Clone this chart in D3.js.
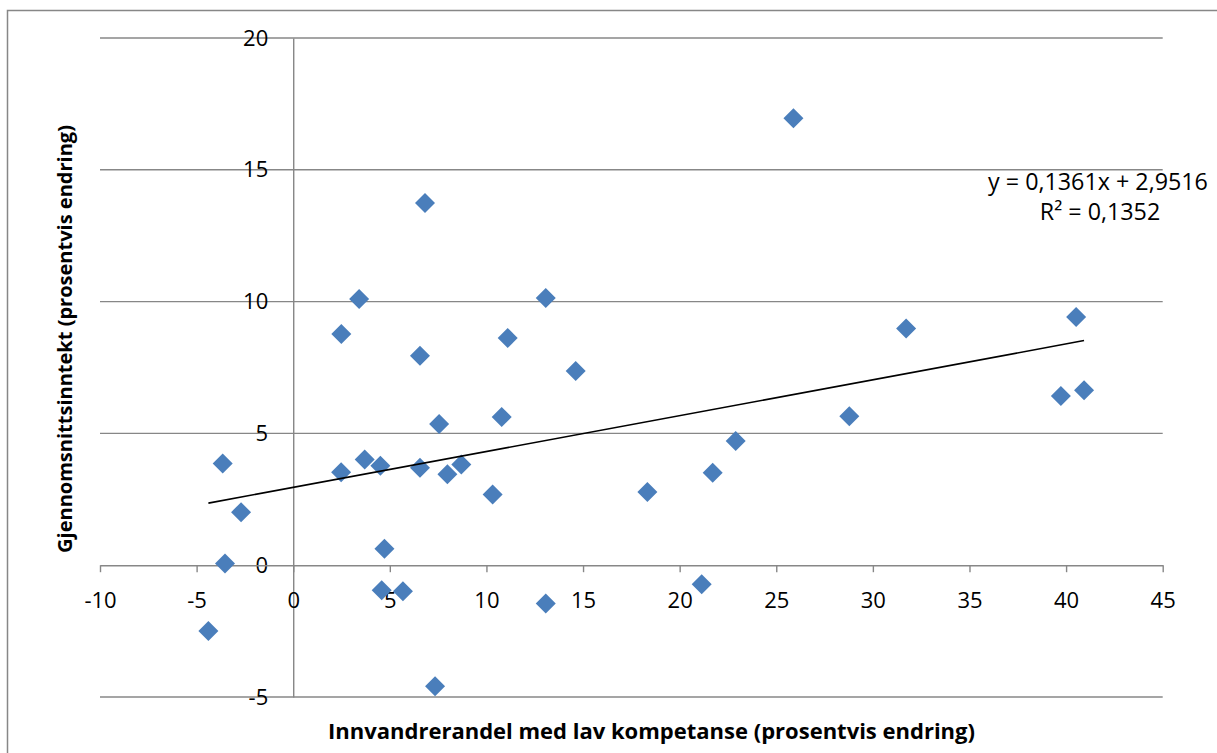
<!DOCTYPE html>
<html>
<head>
<meta charset="utf-8">
<script src="https://cdn.jsdelivr.net/npm/d3@7"></script>
<style>
  html, body { margin: 0; padding: 0; background: #ffffff; }
  svg { display: block; }
</style>
</head>
<body>
<svg id="chart" width="1217" height="753"></svg>
<script>
// ---- data ----
const xValues = [-4.39, -3.65, -3.53, -2.70, 2.48, 2.49, 3.41, 3.70, 4.51, 4.58, 4.72, 5.68,
                 6.56, 6.56, 6.82, 7.34, 7.55, 7.98, 8.70, 10.32, 10.79, 11.10, 13.07, 13.07,
                 14.62, 18.33, 21.14, 21.71, 22.90, 25.89, 28.78, 31.72, 39.73, 40.52, 40.93];
const yValues = [-2.50, 3.86, 0.06, 2.01, 3.53, 8.77, 10.10, 4.01, 3.77, -0.95, 0.62, -0.99,
                 7.95, 3.70, 13.74, -4.59, 5.36, 3.45, 3.82, 2.68, 5.62, 8.62, 10.14, -1.45,
                 7.37, 2.78, -0.72, 3.51, 4.71, 16.96, 5.65, 8.98, 6.42, 9.42, 6.64];
const trendSlope = 0.1361;
const trendIntercept = 2.9516;
const xTicks = [-10, -5, 0, 5, 10, 15, 20, 25, 30, 35, 40, 45];
const yTicks = [-5, 0, 5, 10, 15, 20];
const xDomain = [-10, 45];
const yDomain = [-5, 20];
const xTitle = "Innvandrerandel med lav kompetanse (prosentvis endring)";
const yTitle = "Gjennomsnittsinntekt (prosentvis endring)";
const equationLabel = "y = 0,1361x + 2,9516";
const r2Label = "R² = 0,1352";

// ---- drawing ----
const svg = d3.select("#chart");
const FONT = "'Open Sans', 'Noto Sans', sans-serif";
const GREY = "#878787";

const x = d3.scaleLinear().domain(xDomain).range([100, 1162.7]);
const y = d3.scaleLinear().domain(yDomain).range([697, 38]);

// outer chart border
svg.append("rect")
  .attr("x", 7.5).attr("y", 10.5)
  .attr("width", 1260).attr("height", 800)
  .attr("fill", "none").attr("stroke", GREY).attr("stroke-width", 1.5);

// horizontal gridlines
svg.append("g").selectAll("line")
  .data(yTicks.filter(d => d !== 0))
  .join("line")
  .attr("x1", x(xDomain[0])).attr("x2", x(xDomain[1]))
  .attr("y1", d => y(d)).attr("y2", d => y(d))
  .attr("stroke", GREY).attr("stroke-width", 1.4);

// y axis (at x = 0)
const yAxis = svg.append("g")
  .attr("transform", `translate(${x(0)},0)`)
  .call(d3.axisLeft(y).tickValues(yTicks).tickSize(0).tickSizeOuter(0).tickPadding(25)
        .tickFormat(d => String(d)));
yAxis.select(".domain").attr("stroke", GREY).attr("stroke-width", 1.4);
yAxis.selectAll("text").attr("font-family", FONT).attr("font-size", 22).attr("fill", "#000");

// x axis (at y = 0)
const xAxis = svg.append("g")
  .attr("transform", `translate(0,${y(0)})`)
  .call(d3.axisBottom(x).tickValues(xTicks).tickSize(7).tickSizeOuter(0)
        .tickFormat(d => String(d)));
xAxis.select(".domain").attr("stroke", GREY).attr("stroke-width", 1.4);
xAxis.selectAll(".tick line").attr("stroke", GREY).attr("stroke-width", 1.4);
xAxis.selectAll("text")
  .attr("font-family", FONT).attr("font-size", 22).attr("fill", "#000")
  .attr("y", 35).attr("dy", "0.35em");

// points
const pts = xValues.map((v, i) => ({ x: v, y: yValues[i] }));
svg.append("g").selectAll("path")
  .data(pts)
  .join("path")
  .attr("d", d3.symbol(d3.symbolSquare, 200))
  .attr("transform", d => `translate(${x(d.x)},${y(d.y)}) rotate(45)`)
  .attr("fill", "#4A7EBB");

// linear trendline over the data's x extent
const [xmin, xmax] = d3.extent(xValues);
svg.append("line")
  .attr("x1", x(xmin)).attr("y1", y(trendSlope * xmin + trendIntercept))
  .attr("x2", x(xmax)).attr("y2", y(trendSlope * xmax + trendIntercept))
  .attr("stroke", "#000").attr("stroke-width", 1.6);

function fitWidth(sel, w) {
  const len = sel.node().getComputedTextLength();
  const fs = parseFloat(sel.attr("font-size"));
  sel.attr("font-size", fs * w / len);
  return fs * w / len;
}

// equation labels
const eq = svg.append("text")
  .attr("x", 1098).attr("y", 182).attr("dy", "0.35em")
  .attr("text-anchor", "middle")
  .attr("font-family", FONT).attr("font-size", 22)
  .text(equationLabel);
const eqFs = fitWidth(eq, 220);
svg.append("text")
  .attr("x", 1100).attr("y", 212).attr("dy", "0.35em")
  .attr("text-anchor", "middle")
  .attr("font-family", FONT).attr("font-size", eqFs)
  .text(r2Label);

// axis titles
const xt = svg.append("text")
  .attr("x", 651.5).attr("y", 731).attr("dy", "0.35em")
  .attr("text-anchor", "middle")
  .attr("font-family", FONT).attr("font-weight", "bold").attr("font-size", 22)
  .text(xTitle);
fitWidth(xt, 647);

const yt = svg.append("text")
  .attr("transform", "translate(65,339) rotate(-90)")
  .attr("dy", "0.35em")
  .attr("text-anchor", "middle")
  .attr("font-family", FONT).attr("font-weight", "bold").attr("font-size", 22)
  .text(yTitle);
fitWidth(yt, 428);
</script>
</body>
</html>
